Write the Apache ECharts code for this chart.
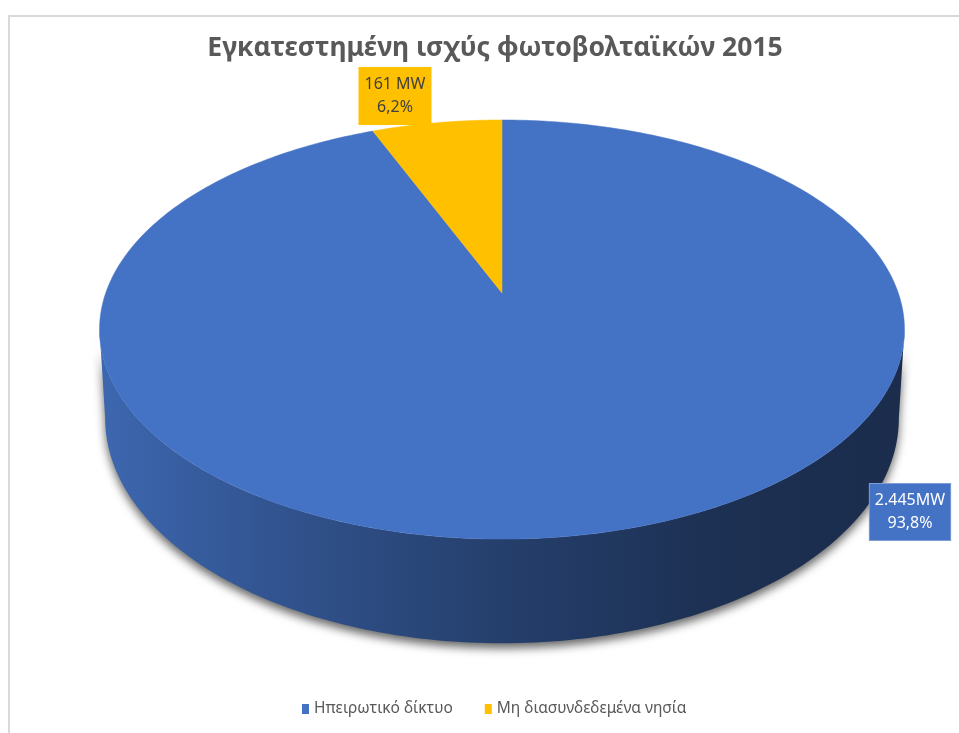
<!DOCTYPE html>
<html>
<head>
<meta charset="utf-8">
<script src="https://cdn.jsdelivr.net/npm/echarts@6/dist/echarts.min.js"></script>
<style>
  html, body { margin: 0; padding: 0; background: #ffffff; }
  #chart { width: 959px; height: 733px; }
</style>
</head>
<body>
<div id="chart"></div>
<script>
// Installed photovoltaic capacity, 2015 (MW)
const categories = ['Ηπειρωτικό δίκτυο', 'Μη διασυνδεδεμένα νησία'];
const capacityMW = [2445, 161];
const unitSuffix = ['MW', ' MW'];

const sliceColors = ['#4472C4', '#FFC000'];
const labelText = ['#FFFFFF', '#404040'];
const labelFill = ['#4472C4', '#FFC000'];
const labelBorder = ['#7F9ED6', '#FFC000'];
// label box centres, in pixels
const labelCentres = [[910, 512], [395, 96]];

const FONT = '"Noto Sans", "DejaVu Sans", sans-serif';
const total = capacityMW.reduce((s, v) => s + v, 0);

// Tilted cylinder seen in perspective: the top disk is a projected circle,
// the side wall hangs below its front half.
const disk = { cx: 502, cy: 293, a: 396.3, b: 203.2, k: 0.1744, depth: 86, bottomScale: 0.986 };

function project(phi, bottom) {
  const u = Math.sin(phi), v = Math.cos(phi);
  const w = 1 + disk.k * v;
  const sx = bottom ? disk.bottomScale : 1;
  return [
    disk.cx + disk.a * sx * u / w,
    disk.cy - disk.b * v / w + (bottom ? disk.depth / w : 0)
  ];
}

function shade(hex, f) {
  const n = parseInt(hex.slice(1), 16);
  const r = Math.round(((n >> 16) & 255) * f);
  const g = Math.round(((n >> 8) & 255) * f);
  const b = Math.round((n & 255) * f);
  return 'rgb(' + r + ',' + g + ',' + b + ')';
}

function fmtThousands(v) {
  return String(v).replace(/\B(?=(\d{3})+(?!\d))/g, '.');
}
function fmtPercent(v) {
  return (v / total * 100).toFixed(1).replace('.', ',') + '%';
}

function makeRenderer(idx) {
  return function (params, api) {
    const before = capacityMW.slice(0, idx).reduce((s, v) => s + v, 0);
    const start = before / total * Math.PI * 2;
    const end = start + api.value(0) / total * Math.PI * 2;
    const color = api.visual('color');
    const children = [];

    // side wall (only the front half of the cylinder is visible)
    const fr = Math.acos(-disk.k);
    const fl = Math.PI * 2 - fr;
    const ws = Math.max(start, fr);
    const we = Math.min(end, fl);
    if (we > ws) {
      const pts = [];
      const n = 160;
      for (let j = 0; j <= n; j++) pts.push(project(ws + (we - ws) * j / n, false));
      for (let j = n; j >= 0; j--) pts.push(project(ws + (we - ws) * j / n, true));
      children.push({
        type: 'polygon',
        shape: { points: pts },
        style: {
          fill: new echarts.graphic.LinearGradient(0, 0, 1, 0, [
            { offset: 0, color: shade(color, 0.9) },
            { offset: 0.25, color: shade(color, 0.71) },
            { offset: 0.5, color: shade(color, 0.55) },
            { offset: 0.75, color: shade(color, 0.43) },
            { offset: 1, color: shade(color, 0.39) }
          ]),
          shadowBlur: 10,
          shadowOffsetY: 5,
          shadowColor: 'rgba(0,0,0,0.6)'
        }
      });
    }

    // top face of the slice
    const top = [[disk.cx, disk.cy]];
    const m = Math.max(4, Math.ceil((end - start) / (Math.PI * 2) * 360));
    for (let j = 0; j <= m; j++) top.push(project(start + (end - start) * j / m, false));
    children.push({
      type: 'polygon',
      shape: { points: top },
      style: { fill: color, stroke: color, lineWidth: 0.5 }
    });

    // data label
    const c = labelCentres[idx];
    children.push({
      type: 'text',
      x: c[0],
      y: c[1],
      style: {
        text: fmtThousands(api.value(0)) + unitSuffix[idx] + '\n' + fmtPercent(api.value(0)),
        fill: labelText[idx],
        font: '16px ' + FONT,
        lineHeight: 23,
        align: 'center',
        verticalAlign: 'middle',
        backgroundColor: labelFill[idx],
        borderColor: labelBorder[idx],
        borderWidth: 1,
        padding: [5, 5, 5, 5]
      }
    });

    return { type: 'group', children: children };
  };
}

const chart = echarts.init(document.getElementById('chart'), null, { renderer: 'canvas' });

chart.setOption({
  animation: false,
  backgroundColor: '#ffffff',
  graphic: [{
    type: 'rect',
    shape: { x: 9, y: 16, width: 1000, height: 800 },
    style: { fill: 'none', stroke: '#D9D9D9', lineWidth: 2 },
    silent: true,
    z: -10
  }],
  title: {
    text: 'Εγκατεστημένη ισχύς φωτοβολταϊκών 2015',
    left: 490,
    top: 30,
    textAlign: 'center',
    textStyle: { fontFamily: FONT, fontSize: 26.5, fontWeight: 'bold', color: '#595959' }
  },
  legend: {
    data: categories,
    left: 297,
    top: 696,
    icon: 'rect',
    itemWidth: 7,
    itemHeight: 10,
    itemGap: 32,
    textStyle: { fontFamily: FONT, fontSize: 15.5, color: '#595959' }
  },
  series: categories.map((name, i) => ({
    type: 'custom',
    name: name,
    coordinateSystem: 'none',
    itemStyle: { color: sliceColors[i] },
    data: [[capacityMW[i]]],
    renderItem: makeRenderer(i)
  }))
});
</script>
</body>
</html>
